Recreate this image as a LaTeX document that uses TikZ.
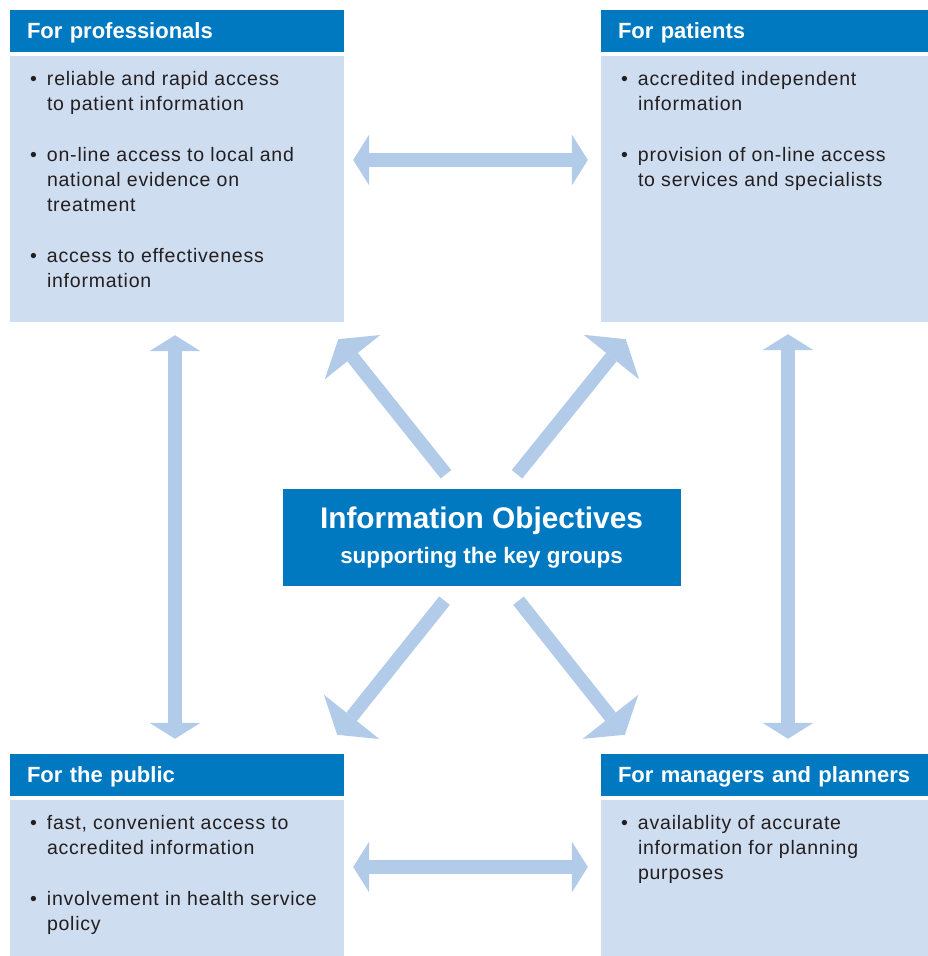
\documentclass[tikz,border=0pt]{standalone}
\usepackage{fontspec}
\setmainfont{Liberation Sans}
\newfontfamily\bodyfont{Liberation Sans}[LetterSpace=4]
\usetikzlibrary{arrows.meta}
\definecolor{headblue}{HTML}{0079C1}
\definecolor{bodyblue}{HTML}{CEDDF0}
\definecolor{arrowblue}{HTML}{B2CBE8}
\definecolor{inktext}{HTML}{231F20}
\newcommand{\bul}{\makebox[17bp][l]{•}}
\newcommand{\ind}{\hspace*{17bp}}
\begin{document}
\begin{tikzpicture}[line join=miter,
    head/.style={fill=headblue,text=white,font=\bfseries\fontsize{22bp}{25bp}\selectfont,
      minimum height=42bp,inner xsep=17bp,inner ysep=0pt,align=left,text height=15.5bp,text depth=0pt},
    body/.style={fill=bodyblue,inner sep=0pt},
    txt/.style={anchor=north west,inner sep=0pt,align=left,text=inktext,
      font=\bodyfont\fontsize{19.5bp}{25bp}\selectfont},
    link/.style={draw=arrowblue,line width=14bp,
      arrows={Triangle[width=51bp,length=16bp,line width=0pt]-Triangle[width=51bp,length=16bp,line width=0pt]}},
    spoke/.style={draw=arrowblue,line width=13.5bp,
      arrows={-Triangle[width=71bp,length=23bp,line width=0pt]}},
  ]
    \useasboundingbox (0,0) rectangle (928bp,956bp);
    %%
    \node (proHead) at (177bp,925bp) [head,text width=300bp] {For professionals};
    \node (proBody) at (177bp,767bp) [body,minimum width=334bp,minimum height=266bp] {};
    \node (patHead) at (764.5bp,925bp) [head,text width=293bp] {For patients};
    \node (patBody) at (764.5bp,767bp) [body,minimum width=327bp,minimum height=266bp] {};
    \node (pubHead) at (177bp,181bp) [head,text width=300bp] {For the public};
    \node (pubBody) at (177bp,78bp) [body,minimum width=334bp,minimum height=156bp] {};
    \node (manHead) at (764.5bp,181bp) [head,text width=293bp] {For managers and planners};
    \node (manBody) at (764.5bp,78bp) [body,minimum width=327bp,minimum height=156bp] {};
    \node (obj) at (481.5bp,418bp) [fill=headblue,text=white,inner sep=0pt,align=center,
      minimum width=398bp,minimum height=97bp,font=\bfseries\fontsize{22.4bp}{35bp}\selectfont]
      {{\fontsize{29.8bp}{35bp}\selectfont Information Objectives}\\supporting the key groups};
    %
    \node (proText) at ([xshift=20bp,yshift=-15.5bp]proBody.north west) [txt]
      {\bul reliable and rapid access\\ \ind to patient information\\[26bp]
       \bul on-line access to local and\\ \ind national evidence on\\ \ind treatment\\[26bp]
       \bul access to effectiveness\\ \ind information};
    \node (patText) at ([xshift=20bp,yshift=-15.5bp]patBody.north west) [txt]
      {\bul accredited independent\\ \ind information\\[26bp]
       \bul provision of on-line access\\ \ind to services and specialists};
    \node (pubText) at ([xshift=20bp,yshift=-15.5bp]pubBody.north west) [txt]
      {\bul fast, convenient access to\\ \ind accredited information\\[26bp]
       \bul involvement in health service\\ \ind policy};
    \node (manText) at ([xshift=20bp,yshift=-15.5bp]manBody.north west) [txt]
      {\bul availablity of accurate\\ \ind information for planning\\ \ind purposes};
    %
    \draw [link,shorten <=9bp,shorten >=13bp] ([yshift=29bp]proBody.east) -- ([yshift=29bp]patBody.west);
    \draw [link,shorten <=9bp,shorten >=13bp] ([yshift=11bp]pubBody.east) -- ([yshift=11bp]manBody.west);
    \draw [link,shorten <=13bp,shorten >=15bp] ([xshift=-2bp]proBody.south) -- ([xshift=-2bp]pubHead.north);
    \draw [link,shorten <=12bp,shorten >=15bp] ([xshift=23.5bp]patBody.south) -- ([xshift=23.5bp]manHead.north);
    \draw [spoke] ([xshift=-35.5bp,yshift=15bp]obj.north) -- ([xshift=-6bp,yshift=-17bp]proBody.south east);
    \draw [spoke] ([xshift=35.5bp,yshift=15bp]obj.north) -- ([xshift=25bp,yshift=-17bp]patBody.south west);
    \draw [spoke] ([xshift=-37bp,yshift=-14bp]obj.south) -- ([xshift=-7bp,yshift=19bp]pubHead.north east);
    \draw [spoke] ([xshift=37bp,yshift=-14bp]obj.south) -- ([xshift=24bp,yshift=19bp]manHead.north west);
    %
\end{tikzpicture}
\end{document}
